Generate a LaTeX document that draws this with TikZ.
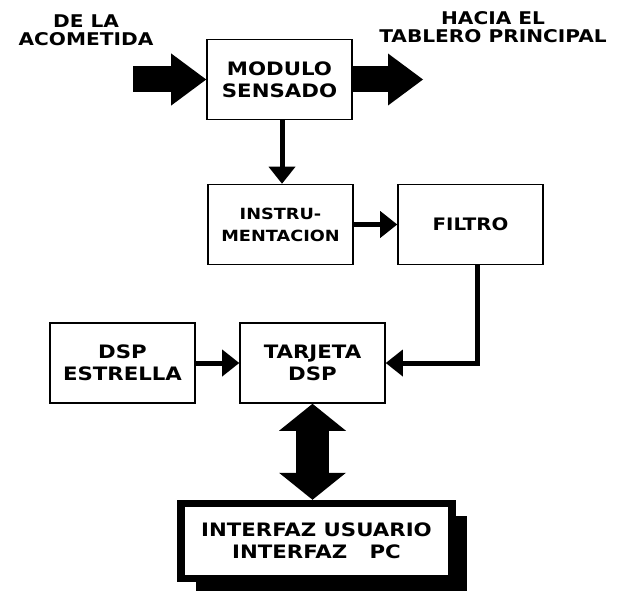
\documentclass[tikz,border=0pt]{standalone}
\usepackage{fontspec}
\newfontfamily\blockfont{DejaVu Sans}[FakeStretch=1.15]
\usepackage{tikz}
\usetikzlibrary{positioning}
\usetikzlibrary{arrows.meta}
\usetikzlibrary{shadows}

\begin{document}
\begin{tikzpicture}[x=1pt, y=-1pt,
        every node/.style={font=\blockfont\bfseries\fontsize{18.5}{22}\selectfont, align=center},
        b/.style={draw, line width=1.6pt, minimum width=145pt, minimum height=80pt, inner sep=0pt},
        lbl/.style={font=\blockfont\bfseries\fontsize{17.5}{18.5}\selectfont, inner sep=0pt},
        con/.style={line width=5pt, -{Triangle[length=17pt, width=27pt, line width=0pt]}},
        big/.style={line width=26pt, -{Triangle[length=35pt, width=52pt, line width=0pt]}},
        dbl/.style={line width=33pt, {Triangle[length=27pt, width=67pt, line width=0pt]}-{Triangle[length=27pt, width=67pt, line width=0pt]}}]
        \useasboundingbox (0, 0) rectangle (617, 591);

        \node[b] (mod) at (279.5, 79.5) {MODULO\\SENSADO};
        \node[b, font=\blockfont\bfseries\fontsize{15.4}{22}\selectfont] (inst) at (280.5, 224.5) {INSTRU-\\MENTACION};
        \node[b, font=\blockfont\bfseries\fontsize{17.2}{22}\selectfont] (filt) at (470.5, 224.5) {FILTRO};
        \node[b] (dsp) at (122.5, 363) {DSP\\ESTRELLA};
        \node[b] (tarj) at (312.5, 363) {TARJETA\\DSP};
        \node[draw, fill=white, line width=7.5pt, minimum width=271pt, minimum height=75pt,
              drop shadow={shadow xshift=15pt, shadow yshift=-12pt, fill=black, opacity=1}]
              (iface) at (316.5, 541) {INTERFAZ USUARIO\\INTERFAZ\ \ \ PC};

        \node[lbl] (acomlbl) at (86, 30) {DE LA\\ACOMETIDA};
        \node[lbl] (tablbl) at (493, 27) {HACIA EL\\TABLERO PRINCIPAL};
        \coordinate (acom) at (133, 79.5);
        \coordinate (tab) at (423, 79.5);

        \draw[big] (acom) -- (mod.west);
        \draw[big] (mod.east) -- (tab);
        \draw[con] ([xshift=2.5pt]mod.south) -- ([xshift=2.5pt]mod.south |- inst.north);
        \draw[con] (inst) -- (filt);
        \draw[con] ([xshift=6.5pt]filt.south) |- (tarj.east);
        \draw[con] (dsp) -- (tarj);
        \draw[dbl] (tarj.south) -- (tarj.south |- iface.north);
    \end{tikzpicture}
\end{document}
